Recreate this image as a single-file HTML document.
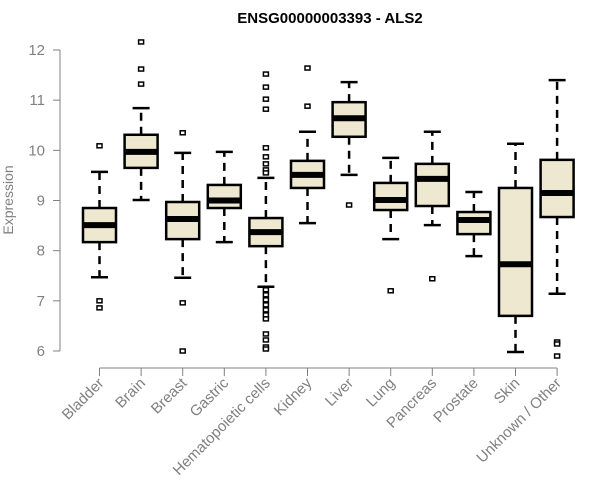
<!DOCTYPE html>
<html><head><meta charset="utf-8"><style>
body{margin:0;background:#fff}
svg{display:block;font-family:"Liberation Sans",Arial,sans-serif}
</style></head><body>
<svg id="chart" width="600" height="500" viewBox="0 0 600 500" xmlns="http://www.w3.org/2000/svg">
<text x="330" y="23" text-anchor="middle" font-size="15" font-weight="bold" fill="#000">ENSG00000003393 - ALS2</text>
<text transform="translate(13,200) rotate(-90)" text-anchor="middle" font-size="14" fill="#808080">Expression</text>
<g id="axes"></g>
<g id="boxes"></g>
</svg>
<script>
const categories=["Bladder","Brain","Breast","Gastric","Hematopoietic cells","Kidney","Liver","Lung","Pancreas","Prostate","Skin","Unknown / Other"];
const whiskerLow=[7.47,9.01,7.46,8.17,7.28,8.55,9.51,8.23,8.51,7.89,5.98,7.14];
const q1Values=[8.17,9.65,8.23,8.85,8.09,9.25,10.27,8.81,8.89,8.33,6.7,8.67];
const medianValues=[8.51,9.97,8.63,9.0,8.37,9.51,10.64,9.01,9.43,8.61,7.73,9.15];
const q3Values=[8.85,10.31,8.97,9.31,8.65,9.79,10.96,9.35,9.73,8.77,9.25,9.81];
const whiskerHigh=[9.57,10.84,9.95,9.97,9.45,10.37,11.36,9.85,10.37,9.17,10.13,11.4];
const outliers=[[10.09,7.0,6.86],[12.16,11.62,11.32],[10.35,6.96,6.0],[],
[11.52,11.26,11.02,10.82,10.05,9.87,9.73,9.61,9.55,7.22,7.12,7.02,6.92,6.82,6.72,6.64,6.34,6.22,6.08,6.04],
[11.64,10.88],[8.91],[7.2],[7.44],[],[],[6.18,6.14,5.9]];
const yTicks=[6,7,8,9,10,11,12];
const NS="http://www.w3.org/2000/svg";
function y(v){return 351-(v-6)*50.17;}
function x(i){return 99.5+i*41.6;}
function mk(tag,attrs,parent){const e=document.createElementNS(NS,tag);for(const k in attrs)e.setAttribute(k,attrs[k]);parent.appendChild(e);return e;}
const axes=document.getElementById('axes'),boxes=document.getElementById('boxes');
let l=mk('line',{x1:60,x2:60,y1:y(12),y2:y(6),stroke:'#808080','stroke-width':1},axes);


yTicks.forEach(t=>{
 const tk=mk('line',{x1:53,x2:60,y1:y(t),y2:y(t),stroke:'#808080'},axes);
 
 
 const tx=mk('text',{x:45,y:y(t)+5,'text-anchor':'end','font-size':15,fill:'#808080'},axes);
 tx.textContent=t;
 
 
});
l=mk('line',{x1:x(0),x2:x(11),y1:368,y2:368,stroke:'#808080'},axes);


categories.forEach((c,i)=>{
 const cx=x(i);
 const tk=mk('line',{x1:cx,x2:cx,y1:368,y2:376,stroke:'#808080'},axes);
 
 
 const tx=mk('text',{transform:`translate(${cx+5},${384}) rotate(-45)`,'text-anchor':'end','font-size':15,fill:'#808080'},axes);
 tx.textContent=c;
 
 
 const g=mk('g',{},boxes);
 
 
 const dash={stroke:'#000','stroke-width':2.5,'stroke-dasharray':'8,6'};
 mk('line',Object.assign({x1:cx,x2:cx,y1:y(q3Values[i]),y2:y(whiskerHigh[i])},dash),g);
 mk('line',Object.assign({x1:cx,x2:cx,y1:y(q1Values[i]),y2:y(whiskerLow[i])},dash),g);
 mk('line',{x1:cx-8.5,x2:cx+8.5,y1:y(whiskerHigh[i]),y2:y(whiskerHigh[i]),stroke:'#000','stroke-width':2.5},g);
 mk('line',{x1:cx-8.5,x2:cx+8.5,y1:y(whiskerLow[i]),y2:y(whiskerLow[i]),stroke:'#000','stroke-width':2.5},g);
 mk('rect',{x:cx-16.5,width:33,y:y(q3Values[i]),height:y(q1Values[i])-y(q3Values[i]),fill:'#ede8cf',stroke:'#000','stroke-width':2.5},g);
 mk('line',{x1:cx-16.5,x2:cx+16.5,y1:y(medianValues[i]),y2:y(medianValues[i]),stroke:'#000','stroke-width':6},g);
 outliers[i].forEach(v=>{
  const o=mk('rect',{x:cx-2.5,y:y(v)-2,width:5,height:4,fill:'#fff',stroke:'#000','stroke-width':1.5},g);
  
  
 });
});
</script>
</body></html>
